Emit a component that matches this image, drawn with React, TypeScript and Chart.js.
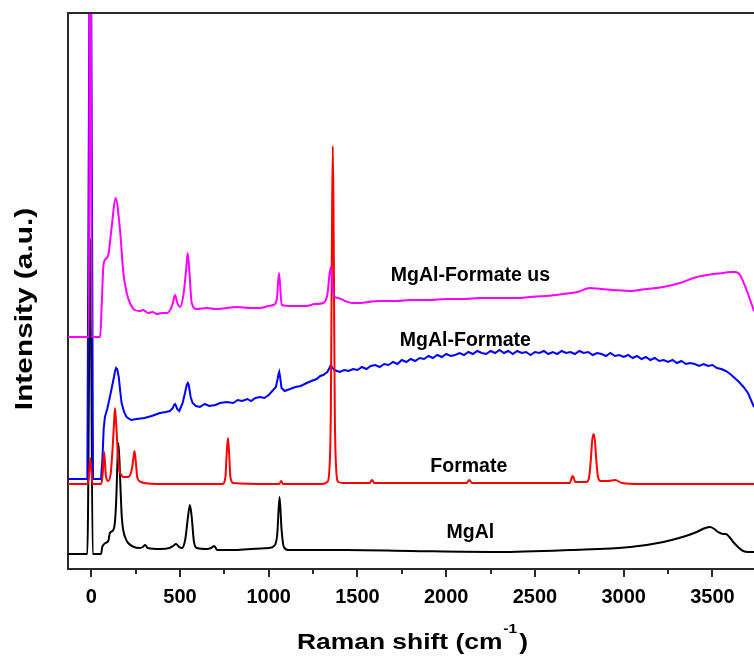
import React, { useEffect, useRef } from 'react';
import { Chart, registerables } from 'chart.js';

Chart.register(...registerables);

// ---- axis ranges / ticks ----
const X_MIN = -131;
const X_MAX = 3734;
const Y_MIN = 0;
const Y_MAX = 556;
const majorTicks = [0, 500, 1000, 1500, 2000, 2500, 3000, 3500];
const minorTicks = [250, 750, 1250, 1750, 2250, 2750, 3250];

// ---- series ----
const seriesNames = ['MgAl-Formate us', 'MgAl-Formate', 'Formate', 'MgAl'];
const seriesColors = ['#ff00ff', '#0000ff', '#ff0000', '#000000'];

const usX = [-131, -20, -14, -5, 3, 50, 58, 68, 77, 96, 115, 137, 162, 181, 200, 218, 245, 274, 293, 320, 345, 370, 400, 425, 445, 460, 472, 485, 500, 520, 535, 543, 552, 566, 594, 650, 700, 763, 820, 900, 950, 1000, 1026, 1045, 1058, 1073, 1130, 1213, 1260, 1307, 1330, 1349, 1364, 1390, 1430, 1470, 1504, 1560, 1620, 1720, 1800, 1908, 2000, 2100, 2190, 2300, 2400, 2472, 2560, 2660, 2740, 2810, 2870, 2942, 3035, 3129, 3223, 3317, 3411, 3505, 3560, 3599, 3630, 3655, 3692, 3726, 3734];
const usY = [232, 232, 232, 800, 232, 232, 260, 302, 309, 314, 342, 371, 339, 296, 276, 266, 259, 258, 259, 256, 257, 255, 256, 256, 259, 266, 274, 266, 262, 275, 300, 316, 300, 266, 260, 261, 260, 261, 262, 261, 261, 263, 264, 269, 296, 264, 263, 263, 265, 266, 274, 302, 274, 271, 268, 266, 266, 267, 268, 268, 269, 269, 270, 270, 271, 271, 271, 272, 273, 275, 277, 281, 280, 279, 278, 280, 282, 286, 292, 295, 296, 297, 297, 294, 279, 262, 258];

const blueX = [-131, -22, -5, 10, 55, 63, 70, 77, 90, 105, 120, 128, 134, 140, 146, 155, 163, 171, 185, 199, 225, 256, 300, 340, 387, 420, 443, 460, 466, 472, 478, 484, 496, 515, 528, 538, 544, 548, 553, 560, 571, 590, 612, 640, 665, 700, 725, 763, 800, 825, 850, 880, 900, 925, 950, 975, 1000, 1025, 1040, 1050, 1055, 1059, 1064, 1072, 1090, 1120, 1150, 1180, 1214, 1240, 1270, 1290, 1307, 1330, 1342, 1350, 1358, 1370, 1385,
  1400, 1425, 1450, 1475, 1500, 1525, 1550, 1575, 1600, 1625, 1650, 1675, 1700, 1725, 1750, 1775, 1800, 1825, 1850, 1875, 1900, 1925, 1950, 1975, 2000, 2025, 2050, 2075, 2100, 2125, 2150, 2175, 2200, 2225, 2250, 2275, 2300, 2325, 2350, 2375, 2400, 2425, 2450, 2475, 2500, 2525, 2550, 2575, 2600, 2625, 2650, 2675, 2700, 2725, 2750, 2775, 2800, 2825, 2850, 2875, 2900, 2925, 2950, 2975, 3000, 3025, 3050, 3075, 3100, 3125, 3150, 3175, 3200, 3225, 3250, 3275, 3300, 3325, 3350, 3375, 3400, 3425, 3450, 3475, 3500, 3525, 3550, 3575, 3600, 3625, 3650, 3675, 3700, 3734];
const blueY = [90, 90, 800, 90, 90, 110, 140, 152, 160, 172, 185, 192, 198, 201, 200, 192, 178, 166, 157, 152, 149, 150, 151, 153, 156, 157, 158, 161, 164, 165, 163, 160, 158, 166, 176, 184, 186, 185, 180, 172, 166, 163, 162, 165, 163, 164, 166, 167, 166, 169, 168, 170, 168, 171, 172, 171, 174, 179, 182, 190, 195, 197, 192, 181, 178, 180, 182, 183, 186, 188, 190, 193, 194, 197, 201, 204, 201, 199, 198,
  197, 199, 198, 200, 199, 202, 200, 203, 204, 202, 205, 204, 207, 205, 209, 207, 210, 208, 211, 210, 213, 211, 214, 212, 215, 213, 214, 216, 214, 217, 215, 218, 216, 215, 218, 216, 219, 216, 218, 215, 218, 216, 217, 214, 217, 216, 218, 215, 217, 215, 218, 216, 217, 215, 218, 216, 217, 214, 216, 215, 213, 216, 213, 214, 212, 214, 211, 213, 210, 212, 209, 211, 208, 209, 207, 209, 206, 208, 205, 206, 205, 203, 205, 203, 204, 201, 200, 198, 195, 191, 187, 182, 176, 162];

const redX = [-131, -18, -5, 7, 55, 63, 73, 82, 95, 110, 120, 128, 134, 142, 150, 158, 170, 180, 208, 228, 237, 244, 252, 260, 280, 298, 400, 600, 740, 756, 763, 770, 777, 784, 800, 1000, 1060, 1070, 1080, 1300, 1330, 1342, 1350, 1356, 1361, 1366, 1372, 1380, 1392, 1420, 1570, 1581, 1595, 2115, 2130, 2145, 2695, 2713, 2728, 2790, 2805, 2815, 2822, 2830, 2838, 2845, 2855, 2870, 2910, 2952, 2990, 3100, 3734];
const redY = [85, 85, 111, 85, 85, 92, 117, 94, 88, 96, 120, 145, 161, 140, 115, 99, 94, 92, 92, 99, 110, 118, 105, 91, 87, 86, 85, 85, 85, 92, 115, 131, 115, 92, 86, 85, 85, 88, 85, 85, 87, 100, 160, 330, 423, 330, 160, 100, 87, 86, 86, 89, 86, 86, 89, 86, 86, 93, 87, 87, 92, 110, 128, 135, 128, 110, 92, 88, 88, 89, 86, 85, 85];

const blackX = [-131, -22, -5, 8, 55, 62, 68, 79, 96, 105, 124, 134, 142, 148, 152, 158, 165, 172, 180, 195, 208, 240, 275, 290, 304, 318, 389, 440, 460, 478, 495, 511, 530, 545, 556, 566, 578, 595, 650, 675, 693, 710, 800, 900, 1000, 1035, 1048, 1061, 1072, 1085, 1110, 1200, 1440, 1800, 2285, 2700, 3037, 3224, 3350, 3411, 3460, 3487, 3510, 3532, 3560, 3575, 3595, 3617, 3650, 3673, 3700, 3734];
const blackY = [15, 15, 330, 15, 15, 22, 24, 26, 28, 36, 39, 48, 75, 110, 126, 112, 80, 52, 39, 30, 26, 22, 21, 22, 24, 21, 20, 21, 23, 25, 22, 21, 30, 52, 64, 52, 28, 21, 20, 21, 23, 19, 19, 20, 21, 24, 35, 72, 40, 22, 19, 19, 19, 18, 17, 19, 22, 27, 33, 37, 41, 42, 40, 37, 35, 35, 32, 27, 21, 18, 17, 17];

// label anchors (data coordinates: centre x, baseline y)
const labelAnchorX = [2136, 2108, 2127, 2136];
const labelAnchorY = [288, 223, 97, 31];

const seriesX = [usX, blueX, redX, blackX];
const seriesY = [usY, blueY, redY, blackY];
const drawOrder = [0, 2, 1, 3];
const seriesSmooth = [true, false, true, true];

const X_TITLE_MAIN = 'Raman shift (cm';
const X_TITLE_SUP = '-1';
const X_TITLE_END = ')';
const Y_TITLE = 'Intensity (a.u.)';

const FONT = '"Liberation Sans", Arial, Helvetica, sans-serif';
const AXIS_COLOR = '#2a2a2a';

const decorPlugin = {
  id: 'decor',
  afterDraw(chart: any) {
    const { ctx, chartArea, scales } = chart;
    const xs = scales.x;
    const ys = scales.y;
    ctx.save();
    // top frame line
    ctx.strokeStyle = AXIS_COLOR;
    ctx.lineWidth = 2;
    ctx.beginPath();
    ctx.moveTo(chartArea.left - 1, chartArea.top);
    ctx.lineTo(chartArea.right, chartArea.top);
    ctx.stroke();
    // minor ticks
    minorTicks.forEach((v) => {
      const px = Math.round(xs.getPixelForValue(v));
      ctx.beginPath();
      ctx.moveTo(px, chartArea.bottom);
      ctx.lineTo(px, chartArea.bottom + 5);
      ctx.stroke();
    });
    // series labels
    ctx.fillStyle = '#000';
    ctx.font = `bold 19.5px ${FONT}`;
    ctx.textAlign = 'center';
    ctx.textBaseline = 'alphabetic';
    seriesNames.forEach((n, i) => {
      ctx.fillText(n, xs.getPixelForValue(labelAnchorX[i]), ys.getPixelForValue(labelAnchorY[i]));
    });

    // x title (slightly widened glyphs, as in the reference)
    const SX = 1.2;
    const mainFont = `bold 22px ${FONT}`;
    const supFont = `bold 13px ${FONT}`;
    ctx.font = mainFont;
    const w1 = ctx.measureText(X_TITLE_MAIN).width * SX;
    const w3 = ctx.measureText(X_TITLE_END).width * SX;
    ctx.font = supFont;
    const w2 = ctx.measureText(X_TITLE_SUP).width * SX;
    const total = w1 + 1 + w2 + 2 + w3;
    const cx = (chartArea.left + chartArea.right) / 2 + 1.5;
    let x0 = cx - total / 2;
    const base = 649;
    ctx.textAlign = 'left';
    const drawWide = (t: string, x: number, y: number, f: string, sx: number) => {
      ctx.save();
      ctx.font = f;
      ctx.translate(x, y);
      ctx.scale(sx, 1);
      ctx.fillText(t, 0, 0);
      ctx.restore();
    };
    drawWide(X_TITLE_MAIN, x0, base, mainFont, SX);
    x0 += w1 + 1;
    drawWide(X_TITLE_SUP, x0, base - 16, supFont, SX);
    x0 += w2 + 2;
    drawWide(X_TITLE_END, x0, base, mainFont, SX);

    // y title
    const yFont = `bold 23.5px ${FONT}`;
    ctx.font = yFont;
    const SY = 1.27;
    const wy = ctx.measureText(Y_TITLE).width * SY;
    ctx.save();
    ctx.translate(31.5, 309);
    ctx.rotate(-Math.PI / 2);
    ctx.translate(-wy / 2, 0);
    ctx.scale(SY, 1);
    ctx.fillText(Y_TITLE, 0, 0);
    ctx.restore();
    ctx.restore();
  },
};

export default function App() {
  const ref = useRef<HTMLCanvasElement | null>(null);
  useEffect(() => {
    if (!ref.current) return;
    const datasets = seriesNames.map((name, i) => ({
      label: name,
      data: seriesX[i].map((x, j) => ({ x, y: seriesY[i][j] })),
      borderColor: seriesColors[i],
      backgroundColor: seriesColors[i],
      borderWidth: 2,
      pointRadius: 0,
      fill: false,
      tension: 0,
      cubicInterpolationMode: seriesSmooth[i] ? ('monotone' as const) : ('default' as const),
      order: drawOrder[i],
    }));
    const chart = new Chart(ref.current, {
      type: 'line',
      data: { datasets },
      options: {
        animation: false,
        responsive: false,
        devicePixelRatio: 1,
        layout: { padding: { top: 13, left: 0, right: 0, bottom: 0 } },
        plugins: { legend: { display: false }, tooltip: { enabled: false } },
        scales: {
          x: {
            type: 'linear',
            min: X_MIN,
            max: X_MAX,
            afterBuildTicks: (s: any) => { s.ticks = majorTicks.map((v) => ({ value: v })); },
            afterFit: (s: any) => { s.height = 87; },
            grid: {
              display: true,
              drawOnChartArea: false,
              drawTicks: true,
              tickLength: 8,
              tickWidth: 2,
              tickColor: AXIS_COLOR,
              color: AXIS_COLOR,
              lineWidth: 2,
            },
            border: { display: true, color: AXIS_COLOR, width: 2 },
            ticks: {
              autoSkip: false,
              maxRotation: 0,
              padding: 8,
              color: '#000',
              font: { family: FONT, size: 20, weight: 'bold' },
              callback: (v: any) => String(v),
            },
          },
          y: {
            type: 'linear',
            min: Y_MIN,
            max: Y_MAX,
            afterFit: (s: any) => { s.width = 68; },
            ticks: { display: false },
            grid: { display: false },
            border: { display: true, color: AXIS_COLOR, width: 2 },
          },
        },
      } as any,
      plugins: [decorPlugin],
    });
    return () => chart.destroy();
  }, []);
  return (
    <div style={{ position: 'absolute', left: 0, top: 0, width: 754, height: 656, background: '#fff' }}>
      <canvas ref={ref} width={754} height={656} style={{ display: 'block' }} />
    </div>
  );
}
